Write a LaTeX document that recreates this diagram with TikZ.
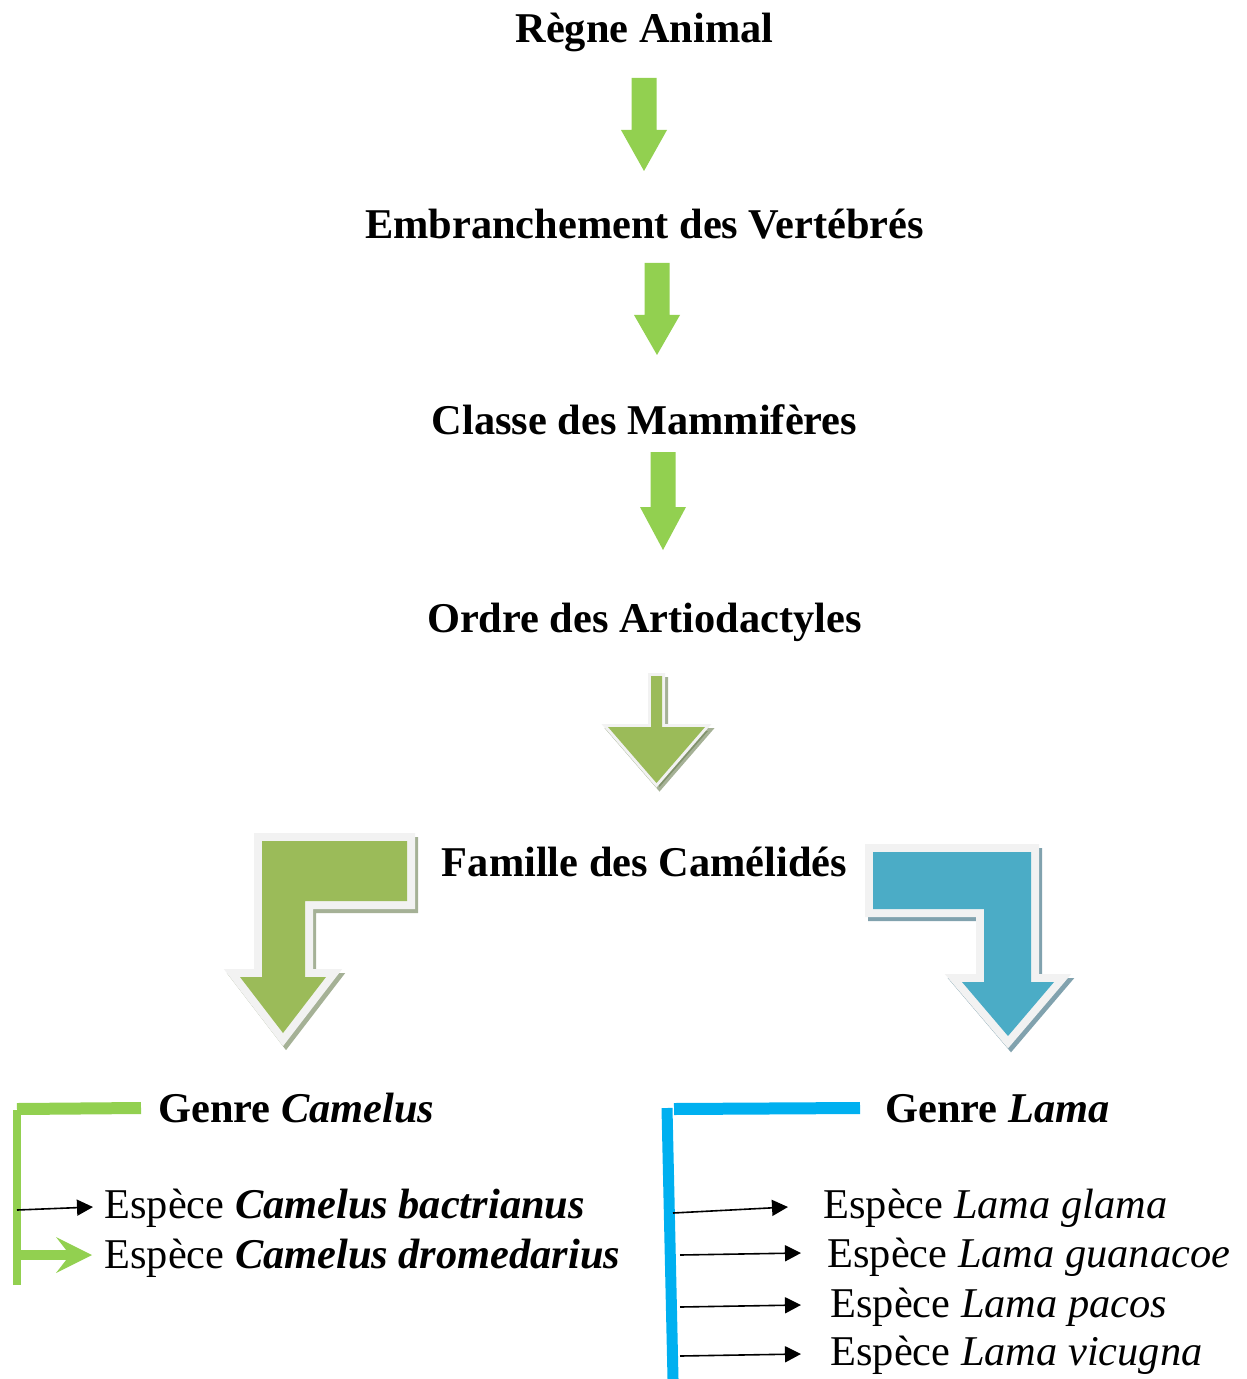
\documentclass[tikz,border=0pt]{standalone}
\usepackage{fontspec}
\setmainfont{Liberation Serif}
\usetikzlibrary{arrows.meta}

\definecolor{arrowgreen}{RGB}{146,208,80}
\definecolor{olivefill}{RGB}{155,187,89}
\definecolor{olivedark}{RGB}{105,125,80}
\definecolor{tealfill}{RGB}{75,172,198}
\definecolor{tealdark}{RGB}{45,100,120}
\definecolor{bracketblue}{RGB}{0,176,240}
\definecolor{outlinegrey}{RGB}{242,242,242}

\begin{document}
\begin{tikzpicture}[x=0.5pt, y=-0.5pt,
	rang/.style = {font=\fontsize{21.2}{25}\selectfont\bfseries, inner sep=0pt, anchor=base},
	genre/.style = {font=\fontsize{21.2}{25}\selectfont\bfseries, inner sep=0pt, anchor=base west},
	espece/.style = {font=\fontsize{21.2}{25}\selectfont, inner sep=0pt, anchor=base west},
	petitefleche/.style = {fill=arrowgreen},
	blocolive/.style = {fill=olivefill,
		preaction={fill=olivedark, draw=olivedark, opacity=0.6, line width=#1, transform canvas={shift={(3,4)}}},
		preaction={draw=outlinegrey, line width=#1}},
	blocbleu/.style = {fill=tealfill,
		preaction={fill=tealdark, draw=tealdark, opacity=0.6, line width=8pt, transform canvas={shift={(3,4)}}},
		preaction={draw=outlinegrey, line width=8pt}},
	fleche/.style = {-{Triangle[length=8pt,width=8pt]}, line width=0.8pt},
	grossefleche/.style = {-{Stealth[length=18pt,width=18pt,inset=7pt,line width=0pt]}, line width=5pt, draw=arrowgreen}]
	\useasboundingbox (0,0) rectangle (1246,1379);

	% rangs
	\node[rang] (regne) at (644.5,43) {Règne Animal};
	\node[rang] (embr) at (644.5,239) {Embranchement des Vertébrés};
	\node[rang] (classe) at (644.5,435) {Classe des Mammifères};
	\node[rang] (ordre) at (644.5,632) {Ordre des Artiodactyles};
	\node[rang] (famille) at (644.5,876) {Famille des Camélidés};
	\node[genre] (camelus) at (158,1122) {Genre \textit{Camelus}};
	\node[genre] (lama) at (885,1122) {Genre \textit{Lama}};

	% especes
	\node[espece] (bactrianus) at (104,1218) {Espèce \textbf{\textit{Camelus bactrianus}}};
	\node[espece] (dromedarius) at (104,1268) {Espèce \textbf{\textit{Camelus dromedarius}}};
	\node[espece] (glama) at (823,1218) {Espèce \textit{Lama glama}};
	\node[espece] (guanacoe) at (827,1267) {Espèce \textit{Lama guanacoe}};
	\node[espece] (pacos) at (830,1317) {Espèce \textit{Lama pacos}};
	\node[espece] (vicugna) at (830,1365) {Espèce \textit{Lama vicugna}};

	% fleches vertes
	\foreach \cx/\top/\head/\tip in {644/78/130/171, 657/263/315/355, 663/452/507/550}
		\fill[petitefleche] (\cx-12.5,\top) -- (\cx+12.5,\top) -- (\cx+12.5,\head) -- (\cx+23,\head)
			-- (\cx,\tip) -- (\cx-23,\head) -- (\cx-12.5,\head) -- cycle;

	% fleche olive
	\fill[blocolive=3pt] (651,676) -- (662,676) -- (662,727) -- (705,727) -- (656.5,783)
		-- (608,727) -- (651,727) -- cycle;

	% fleches coudees
	\fill[blocolive=8pt] (262,841) -- (407,841) -- (407,901) -- (305,901) -- (305,977) -- (326,977)
		-- (283,1033) -- (240,977) -- (262,977) -- cycle;
	\fill[blocbleu] (873,852) -- (1031,852) -- (1031,982) -- (1054,982) -- (1008,1036)
		-- (962,982) -- (984,982) -- (984,909) -- (873,909) -- cycle;

	% crochet Camelus
	\draw[arrowgreen, line width=4pt] (17,1285) -- (17,1110);
	\draw[arrowgreen, line width=6pt] (17,1109) -- (141,1108);
	\coordinate (c1) at (17,1210);
	\coordinate (c2) at (21,1255);
	\draw[fleche] (c1) -- ([shift={(-11,-11)}]bactrianus.base west);
	\draw[grossefleche] (c2) -- ([shift={(-12,-13)}]dromedarius.base west);

	% crochet Lama
	\draw[bracketblue, line width=5.5pt] (673,1379) -- (667,1108);
	\draw[bracketblue, line width=6pt] (674,1109) -- (860,1108);
	\coordinate (l1) at (673,1213);
	\coordinate (l2) at (680,1255);
	\coordinate (l3) at (680,1307);
	\coordinate (l4) at (680,1356);
	\draw[fleche] (l1) -- ([shift={(-35,-11)}]glama.base west);
	\draw[fleche] (l2) -- ([shift={(-26,-14)}]guanacoe.base west);
	\draw[fleche] (l3) -- ([shift={(-29,-12)}]pacos.base west);
	\draw[fleche] (l4) -- ([shift={(-29,-11)}]vicugna.base west);
\end{tikzpicture}
\end{document}
